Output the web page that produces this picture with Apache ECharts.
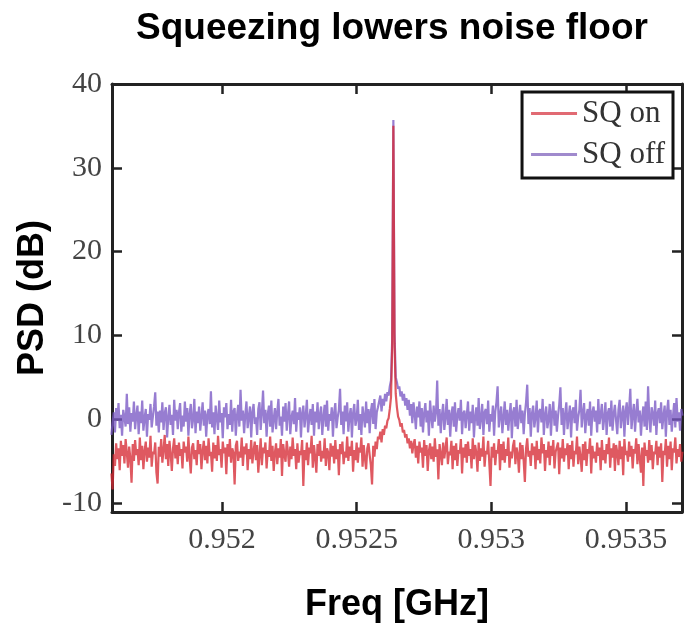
<!DOCTYPE html>
<html>
<head>
<meta charset="utf-8">
<script src="https://cdn.jsdelivr.net/npm/echarts@6/dist/echarts.min.js"></script>
<style>
html, body { margin: 0; padding: 0; background: #fff; }
#main { width: 685px; height: 628px; }
</style>
</head>
<body>
<div id="main"></div>
<script>
// sweep grid of the analyzer (GHz)
var fStart = 0.9515888;
var fStep = 0.0000044;

var xTicks = [0.952, 0.9525, 0.953, 0.9535];
var yTicks = [-10, 0, 10, 20, 30, 40];

// SQ off trace (dB)
var sqOff = [
	-1.9, -0.4, 0.8, -1.6, 1.3, -0.2, 1.9, -1.1, 0.5, -2.0, 1.1, 0.2, -0.9, 3.0, -0.6, 1.4, -1.5, 0.7, -0.3, 2.1,
	-1.2, 0.4, 1.6, -1.8, 0.9, -0.5, 2.2, -1.4, 0.1, 1.2, -2.1, 0.6, -0.1, 1.8, -1.0, 0.3, 1.5, 3.2, -0.8, 0.9,
	-1.6, 1.0, -0.4, 2.0, -1.3, 0.7, 1.4, -2.2, 0.2, 1.7, -0.7, 0.5, -1.9, 2.3, -0.2, 1.1, -1.2, 0.8, 1.9, -1.5,
	0.4, -0.9, 2.1, -0.3, 1.3, -2.0, 0.6, 1.8, -1.1, 0.0, 2.4, -1.7, 0.9, -0.5, 1.5, -1.4, 0.3, 2.0, -0.8, 1.0,
	-2.1, 0.5, 1.2, -0.6, 3.3, -1.0, 0.8, -1.8, 1.6, 0.1, -1.3, 2.2, -0.4, 0.7, -2.3, 1.4, 0.2, 1.9, -1.2, 0.6,
	-0.7, 2.3, -1.5, 0.9, 1.3, -2.0, 0.4, 1.7, -0.9, 3.5, -0.2, 1.0, -1.7, 0.5, 2.1, -1.1, 0.3, 1.5, -2.2, 0.8,
	1.8, -0.6, 0.2, -1.9, 1.2, 2.0, -1.3, 0.7, 3.4, -0.5, 1.1, -2.1, 0.6, 1.6, -0.9, 2.2, -1.6, 0.0, 1.3, -1.2,
	0.9, 2.4, -0.8, 0.3, -2.0, 1.5, -0.3, 1.9, -1.4, 0.6, 2.1, -1.8, 0.2, 1.0, -0.6, 2.5, -1.5, 0.8, -0.1, 1.4,
	-2.2, 0.7, 1.6, -1.0, 0.4, 2.3, -1.6, 0.1, 1.2, -0.7, 1.8, -2.0, 0.9, -0.4, 2.0, -1.2, 0.5, 1.5, -1.9, 0.3,
	1.7, -0.9, 2.2, -1.4, 0.6, -0.2, 1.4, -2.1, 0.8, 1.9, -1.1, 0.2, 1.1, 3.6, -0.7, 0.9, -1.8, 1.6, -0.3, 2.0,
	-1.5, 0.4, 1.3, -2.2, 0.7, 1.8, -0.8, 0.0, 2.3, -1.3, 0.6, -1.9, 1.5, 0.3, -1.0, 2.1, -0.5, 1.2, -1.7, 0.9,
	1.9, -0.6, 2.4, -1.2, 0.8, 1.4, 1.5, 2.8, 0.9, 2.4, 1.6, 3.0, 2.1, 3.2, 2.8, 3.9, 4.6, 9.5, 35.7, 10.2,
	5.0, 4.4, 3.6, 3.9, 2.7, 3.3, 2.2, 3.0, 1.6, 2.5, 1.1, 2.3, 0.4, 1.8, -0.5, 2.0, 0.6, -1.2, 1.5, 0.2,
	2.1, -0.9, 1.3, -1.6, 0.7, 1.9, -0.4, 1.0, -2.0, 2.2, 0.3, -1.1, 1.6, -0.3, 0.8, 4.6, -0.8, 1.2, -1.7, 0.5,
	1.8, -1.3, 0.2, 2.4, -0.7, 1.1, -2.1, 0.6, 1.5, -0.9, 2.0, -1.5, 0.4, 1.3, -0.2, 2.3, -1.8, 0.7, 1.0, -1.1,
	0.5, 2.1, -1.4, 0.9, -0.5, 1.7, -2.2, 0.3, 1.4, -0.8, 2.5, -1.2, 0.1, 1.8, -1.9, 0.8, 1.2, -0.6, 2.2, -1.5,
	0.6, -0.3, 1.6, -2.0, 0.9, 2.0, 3.9, -1.0, 0.4, 1.5, -1.7, 0.2, 2.1, -0.7, 1.1, -1.4, 0.5, 1.9, -2.3, 0.8,
	1.4, -0.9, 2.3, -1.2, 0.3, 1.7, -0.5, 1.0, -1.8, 0.6, 2.0, 4.1, -0.6, 1.3, -2.1, 0.7, 1.6, -1.0, 0.2, 2.2,
	-1.6, 0.9, 1.2, -0.4, 2.4, -1.9, 0.5, 1.5, -1.1, 0.0, 1.8, -2.0, 0.8, 2.1, -0.8, 1.0, -1.5, 0.4, 1.7, 3.8,
	-0.7, 1.3, -1.9, 0.6, 2.0, -1.2, 0.3, 1.6, -2.2, 0.9, 1.4, -0.5, 2.3, -1.4, 0.2, 1.1, 3.5, -1.0, 0.7, 1.9,
	-1.7, 0.4, 1.2, -0.8, 2.1, -2.0, 0.8, 1.5, -0.3, 1.0, -1.6, 2.4, -0.6, 0.5, 1.8, -1.3, 0.1, 2.0, -1.9, 0.7,
	1.3, -0.9, 2.2, -1.4, 0.6, 1.7, -0.2, -1.8, 1.1, 2.3, -1.1, 0.4, 1.6, -2.1, 0.9, 2.0, -0.7, 1.2, 3.6, -1.2,
	0.5, 1.8, -1.5, 0.8, 2.4, -0.4, 1.0, -2.0, 0.3, 1.5, -0.9, 2.1, -1.3, 3.9, 0.2, -1.6, 1.4, 0.6, -0.8, 2.2,
	-1.9, 0.7, 1.3, -0.5, 2.0, -1.2, 0.4, 1.6, -2.1, 0.9, 2.3, -0.7, 1.1, -1.5, 0.3, 1.9, -1.0, 2.5, -0.3, 0.8,
	-1.4, 1.2, 0.4
];

// SQ on trace (dB)
var sqOn = [
	-6.5, -8.4, -4.2, -5.6, -2.9, -4.8, -3.5, -6.1, -2.6, -4.4, -3.1, -5.3, -2.4, -4.0, -5.8, -3.3, -4.7, -7.6, -3.0, -5.0,
	-2.5, -4.3, -3.6, -5.5, -2.2, -4.9, -3.2, -6.0, -3.8, -2.7, -5.1, -3.4, -4.6, -2.0, -5.7, -3.9, -4.2, -2.8, -6.4, -7.7,
	-3.3, -4.5, -2.4, -5.2, -3.7, -1.9, -4.8, -3.0, -5.6, -2.6, -4.1, -6.2, -3.5, -2.3, -4.7, -3.1, -5.4, -2.8, -4.4, -3.6,
	-5.9, -2.7, -4.0, -3.3, -5.1, -2.1, -4.6, -6.5, -3.4, -2.9, -4.8, -3.7, -5.5, -2.5, -4.2, -3.0, -6.0, -3.8, -2.6, -4.9,
	-3.2, -5.3, -2.3, -4.4, -3.9, -6.3, -2.8, -4.7, -3.1, -5.0, -2.0, -4.3, -3.6, -5.8, -2.7, -4.1, -3.4, -6.6, -3.0, -4.5,
	-2.4, -5.2, -3.5, -4.0, -7.8, -3.2, -2.6, -5.0, -3.9, -4.6, -2.2, -5.6, -3.3, -4.2, -2.9, -6.1, -3.6, -4.8, -2.5, -5.3,
	-3.8, -2.7, -4.9, -3.1, -6.4, -4.3, -2.3, -5.5, -3.4, -4.1, -2.8, -5.9, -3.7, -4.5, -2.1, -5.0, -3.2, -6.2, -4.0, -2.9,
	-5.4, -3.5, -4.6, -2.4, -6.8, -3.0, -4.2, -5.1, -2.6, -3.9, -5.7, -3.3, -4.8, -2.2, -4.4, -3.6, -6.0, -2.9, -5.2, -3.8,
	-4.3, -2.5, -8.0, -3.7, -4.9, -2.8, -5.5, -3.4, -4.1, -2.0, -5.8, -3.1, -4.6, -6.4, -3.0, -4.4, -2.6, -5.1, -3.8, -4.7,
	-2.3, -5.6, -3.5, -4.0, -6.1, -2.9, -4.5, -3.2, -5.3, -2.5, -4.8, -3.6, -6.7, -3.0, -4.2, -2.7, -5.4, -3.9, -4.6, -2.1,
	-5.0, -3.3, -4.4, -2.6, -6.3, -3.7, -4.9, -2.8, -5.2, -3.4, -4.0, -2.2, -5.7, -3.1, -4.7, -6.0, -3.5, -2.9, -4.3, -5.5,
	-7.8, -3.2, -4.5, -2.7, -3.6, -2.1, -2.4, -1.5, -2.8, -1.2, -1.9, -0.8, -1.1, -0.2, 0.1, 1.2, 2.6, 8.5, 35.0, 9.0,
	3.0, 1.4, 0.3, -0.1, -0.9, -0.5, -1.6, -1.3, -2.2, -1.8, -2.9, -2.3, -3.5, -2.6, -4.1, -3.0, -2.4, -4.6, -3.2, -5.3,
	-2.7, -4.0, -3.4, -5.8, -2.5, -4.4, -3.1, -6.2, -3.8, -2.9, -4.8, -3.3, -5.1, -2.3, -4.5, -3.6, -7.2, -3.0, -4.2, -5.5,
	-2.8, -4.7, -3.5, -2.2, -5.4, -3.9, -4.3, -2.6, -6.0, -3.2, -4.9, -2.9, -5.6, -3.7, -4.1, -2.4, -6.5, -3.4, -4.6, -3.0,
	-5.2, -2.7, -4.4, -3.6, -5.9, -2.3, -4.8, -3.1, -4.0, -6.3, -2.8, -5.0, -3.5, -4.5, -2.1, -5.7, -3.8, -4.2, -2.6, -5.3,
	-8.0, -3.3, -4.6, -2.9, -5.5, -3.7, -4.1, -2.4, -6.1, -3.0, -4.9, -2.7, -5.2, -3.6, -4.4, -2.2, -5.8, -3.9, -4.7, -3.2,
	-2.5, -5.4, -3.4, -4.2, -6.4, -2.8, -4.8, -3.1, -5.0, -7.5, -3.5, -2.3, -4.5, -3.8, -5.6, -2.9, -4.3, -3.3, -6.0, -2.6,
	-4.9, -3.6, -5.3, -2.2, -4.1, -3.0, -6.2, -3.7, -4.6, -2.7, -5.5, -3.2, -4.4, -2.5, -5.9, -3.9, -4.0, -2.8, -6.6, -3.4,
	-4.7, -2.4, -5.1, -3.5, -4.3, -2.9, -6.0, -3.1, -4.8, -2.6, -5.7, -3.8, -4.2, -2.1, -5.4, -3.3, -4.5, -6.3, -3.0, -4.9,
	-2.7, -5.6, -3.6, -4.1, -2.3, -6.5, -3.2, -4.7, -3.9, -5.2, -2.8, -4.4, -3.4, -6.1, -2.5, -4.9, -3.7, -5.3, -3.0, -4.2,
	-2.2, -5.8, -3.5, -4.6, -2.9, -6.2, -3.1, -4.0, -5.5, -2.6, -4.8, -3.3, -6.7, -2.4, -4.3, -3.8, -5.1, -2.7, -4.5, -3.2,
	-5.9, -3.6, -4.1, -2.3, -5.4, -3.0, -4.7, -6.4, -3.4, -8.0, -2.8, -4.4, -3.7, -5.2, -2.5, -4.9, -3.1, -6.0, -3.9, -4.2,
	-2.6, -5.5, -3.3, -4.6, -2.9, -7.5, -3.8, -4.3, -2.4, -5.7, -3.2, -4.8, -2.7, -6.1, -3.5, -4.0, -2.2, -5.3, -3.6, -4.5,
	-3.0, -5.1, -3.9
];

function pairs(vals) {
	return vals.map(function(v, i) {
		return [fStart + i * fStep, v];
	});
}

var serifFont = '"Liberation Serif", "DejaVu Serif", serif';
var sansFont = '"Liberation Sans", Arial, sans-serif';

function xAxisCfg(pos, showLabel) {
	return {
		type: 'value',
		position: pos,
		min: 0.951591,
		max: 0.953708,
		name: showLabel ? 'Freq [GHz]' : '',
		nameLocation: 'middle',
		nameGap: 75,
		nameTextStyle: {
			fontFamily: sansFont,
			fontWeight: 'bold',
			fontSize: 36,
			color: '#000'
		},
		axisLine: {
			show: true,
			onZero: false,
			lineStyle: { color: '#222', width: 3 }
		},
		axisTick: {
			show: true,
			inside: true,
			length: 10,
			customValues: xTicks,
			lineStyle: { color: '#222', width: 2.5 }
		},
		axisLabel: {
			show: showLabel,
			customValues: xTicks,
			margin: 13,
			fontFamily: serifFont,
			fontSize: 30,
			color: '#444',
			formatter: function(v) { return (+v.toFixed(4)) + ''; }
		},
		splitLine: { show: false }
	};
}

function yAxisCfg(pos, showLabel) {
	return {
		type: 'value',
		position: pos,
		min: -11.1,
		max: 40,
		name: showLabel ? 'PSD (dB)' : '',
		nameLocation: 'middle',
		nameGap: 48,
		nameTextStyle: {
			fontFamily: sansFont,
			fontWeight: 'bold',
			fontSize: 36,
			color: '#000'
		},
		axisLine: {
			show: true,
			onZero: false,
			lineStyle: { color: '#222', width: 3 }
		},
		axisTick: {
			show: true,
			inside: true,
			length: 10,
			customValues: yTicks,
			lineStyle: { color: '#222', width: 2.5 }
		},
		axisLabel: {
			show: showLabel,
			customValues: yTicks,
			margin: 10,
			fontFamily: serifFont,
			fontSize: 30,
			color: '#444'
		},
		splitLine: { show: false }
	};
}

var chart = echarts.init(document.getElementById('main'));
chart.setOption({
	animation: false,
	backgroundColor: '#fff',
	title: {
		text: 'Squeezing lowers noise floor',
		left: 387,
		top: 5,
		textAlign: 'center',
		textStyle: {
			fontFamily: sansFont,
			fontWeight: 'bold',
			fontSize: 37,
			color: '#000'
		}
	},
	grid: {
		left: 112,
		right: 3,
		top: 84,
		bottom: 114
	},
	legend: {
		data: ['SQ on', 'SQ off'],
		orient: 'vertical',
		right: 12,
		top: 92,
		icon: 'rect',
		backgroundColor: '#fff',
		borderColor: '#111',
		borderWidth: 3,
		borderRadius: 0,
		padding: [6, 8, 8, 9],
		itemWidth: 46,
		itemHeight: 3,
		itemGap: 10,
		textStyle: {
			fontFamily: serifFont,
			fontSize: 31,
			lineHeight: 30,
			color: '#333'
		}
	},
	xAxis: [xAxisCfg('bottom', true), xAxisCfg('top', false)],
	yAxis: [yAxisCfg('left', true), yAxisCfg('right', false)],
	series: [{
		name: 'SQ on',
		type: 'line',
		symbol: 'none',
		clip: true,
		data: pairs(sqOn),
		lineStyle: { color: 'rgba(214,42,52,0.78)', width: 2.2 },
		itemStyle: { color: 'rgba(222,90,100,0.9)' },
		z: 2
	}, {
		name: 'SQ off',
		type: 'line',
		symbol: 'none',
		clip: true,
		data: pairs(sqOff),
		lineStyle: { color: 'rgba(122,88,196,0.78)', width: 2.2 },
		itemStyle: { color: 'rgba(150,125,200,0.9)' },
		z: 1
	}]
});
</script>
</body>
</html>
